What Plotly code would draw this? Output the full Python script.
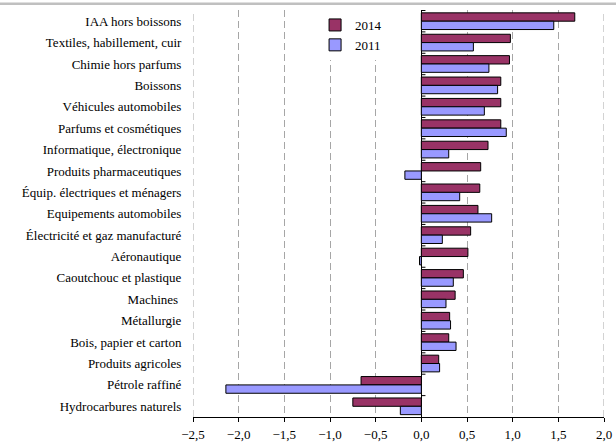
import plotly.graph_objects as go

categories = [
    "IAA hors boissons", "Textiles, habillement, cuir", "Chimie hors parfums",
    "Boissons", "Véhicules automobiles", "Parfums et cosmétiques",
    "Informatique, électronique", "Produits pharmaceutiques",
    "Équip. électriques et ménagers", "Equipements automobiles",
    "Électricité et gaz manufacturé", "Aéronautique", "Caoutchouc et plastique",
    "Machines\u00a0", "Métallurgie", "Bois, papier et carton",
    "Produits agricoles", "Pétrole raffiné", "Hydrocarbures naturels",
]
values_2014 = [1.68, 0.975, 0.965, 0.87, 0.87, 0.87, 0.73, 0.65, 0.64, 0.62,
               0.54, 0.51, 0.46, 0.37, 0.31, 0.30, 0.19, -0.66, -0.75]
values_2011 = [1.45, 0.57, 0.74, 0.835, 0.69, 0.93, 0.30, -0.18, 0.42, 0.77,
               0.23, -0.02, 0.35, 0.27, 0.32, 0.38, 0.20, -2.14, -0.23]
x_ticks = [-2.5, -2.0, -1.5, -1.0, -0.5, 0.0, 0.5, 1.0, 1.5, 2.0]

FONT = "Liberation Serif, Times New Roman, serif"

fig = go.Figure()
fig.add_trace(go.Bar(name="2014", y=categories, x=values_2014, orientation="h",
                     marker=dict(color="#993366", line=dict(color="#000000", width=1))))
fig.add_trace(go.Bar(name="2011", y=categories, x=values_2011, orientation="h",
                     marker=dict(color="#9999FF", line=dict(color="#000000", width=1))))

# small tick marks on the zero axis at category boundaries
for i in range(len(categories)):
    fig.add_shape(type="line", xref="x", yref="y", x0=0, x1=0.045,
                  y0=i - 0.5, y1=i - 0.5, line=dict(color="#000000", width=1))

# dashed gridlines at the range edges
for xv in (x_ticks[0], x_ticks[-1]):
    fig.add_shape(type="line", xref="x", yref="paper", x0=xv, x1=xv, y0=0, y1=1,
                  line=dict(color="#a6a6a6", width=1, dash="7px,4px"), layer="below")

# thin grey border band at the top of the chart
fig.add_shape(type="rect", xref="paper", yref="paper", x0=-0.48, x1=1.04,
              y0=1.0125, y1=1.0185, fillcolor="#c0c0c0", line=dict(width=0),
              layer="above")

fig.update_layout(
    width=616, height=443,
    margin=dict(l=193, r=12, t=10, b=26),
    paper_bgcolor="white", plot_bgcolor="white",
    barmode="group", bargap=0.22, bargroupgap=0,
    separators=", ",
    font=dict(family=FONT, size=13, color="#000000"),
    showlegend=True,
    legend=dict(x=0.297, y=1.0, xanchor="left", yanchor="top",
                bgcolor="white", borderwidth=0, traceorder="normal",
                font=dict(family=FONT, size=13), itemwidth=30),
    xaxis=dict(range=[-2.5, 2.0], tickvals=x_ticks, tickformat=".1f",
               showgrid=True, gridcolor="#a6a6a6", griddash="7px,4px", gridwidth=1,
               zeroline=True, zerolinecolor="#000000", zerolinewidth=1,
               showline=True, linecolor="#000000", linewidth=1,
               ticks="outside", ticklen=4, tickcolor="#000000",
               ticklabelstandoff=1, automargin=False, fixedrange=True),
    yaxis=dict(type="category", autorange="reversed", showgrid=False,
               showline=False, zeroline=False,
               ticks="outside", ticklen=8, tickcolor="rgba(0,0,0,0)",
               tickfont=dict(family=FONT, size=13), automargin=False,
               fixedrange=True),
)

fig.write_html("out.html", config={"displayModeBar": False},
               post_script="document.body.style.margin='0';")
